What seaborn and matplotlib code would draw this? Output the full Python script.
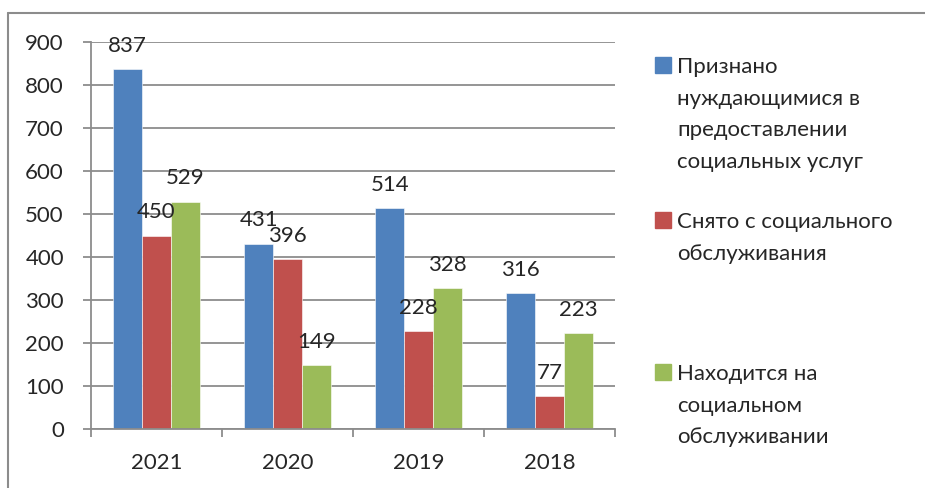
import pandas as pd
import numpy as np
import matplotlib.pyplot as plt
import seaborn as sns
from matplotlib.patches import Rectangle
from matplotlib.lines import Line2D

years = ['2021', '2020', '2019', '2018']
recognized = [837, 431, 514, 316]
removed = [450, 396, 228, 77]
served = [529, 149, 328, 223]
series_names = ['Признано\nнуждающимися в\nпредоставлении\nсоциальных услуг',
                'Снято с социального\nобслуживания',
                'Находится на\nсоциальном\nобслуживании']
colors = ['#4F81BD', '#C0504D', '#9BBB59']
yticks = [0, 100, 200, 300, 400, 500, 600, 700, 800, 900]

df = pd.DataFrame({
    'year': years * 3,
    'value': recognized + removed + served,
    'series': [series_names[0]] * 4 + [series_names[1]] * 4 + [series_names[2]] * 4,
})

sns.set_style('white')
plt.rcParams['font.family'] = ['Lato', 'DejaVu Sans']
grey = '#8c8c8c'
W, H = 925, 488
fs = 16

fig = plt.figure(figsize=(W / 100, H / 100), dpi=100)
ax = fig.add_axes([91 / W, 1 - 429 / H, 524 / W, 387 / H])

sns.barplot(data=df, x='year', y='value', hue='series', order=years,
            hue_order=series_names, palette=colors, width=0.66,
            saturation=1, legend=False, ax=ax, edgecolor='white', linewidth=0.4)

for c in ax.containers:
    ax.bar_label(c, padding=9.5, fontsize=fs)

ax.set_ylim(0, 900)
ax.set_xlim(-0.5, 3.5)
ax.set_yticks(yticks)
ax.yaxis.grid(True, color=grey, lw=1.3)
ax.set_axisbelow(True)
ax.set_xlabel('')
ax.set_ylabel('')
for s in ['top', 'right']:
    ax.spines[s].set_visible(False)
for s in ['left', 'bottom']:
    ax.spines[s].set_color(grey)
    ax.spines[s].set_linewidth(1.3)

ax.tick_params(axis='y', which='major', length=6, width=1.3, color=grey,
               direction='out', pad=13.5, labelsize=fs, left=True)
ax.set_xticks(np.arange(-0.5, 4, 1), minor=True)
ax.tick_params(axis='x', which='minor', length=6, width=1.3, color=grey,
               direction='out', bottom=True)
ax.tick_params(axis='x', which='major', length=0, pad=17, labelsize=fs)

# legend drawn by hand so the squares sit on the first line
leg_tops = [57, 212, 364]
for name, col, top in zip(series_names, colors, leg_tops):
    fig.patches.append(Rectangle((655 / W, 1 - (top + 16) / H), 16 / W, 16 / H,
                                 transform=fig.transFigure, color=col))
    fig.text(677 / W, 1 - top / H, name, fontsize=fs, va='top', ha='left',
             linespacing=1.73)

# outer chart frame
fig.add_artist(Line2D([8 / W, 1], [1 - 13 / H, 1 - 13 / H], transform=fig.transFigure,
                      color=grey, lw=1.5))
fig.add_artist(Line2D([8 / W, 8 / W], [0, 1 - 13 / H], transform=fig.transFigure,
                      color=grey, lw=1.5))

fig.savefig('out.png', dpi=100)
